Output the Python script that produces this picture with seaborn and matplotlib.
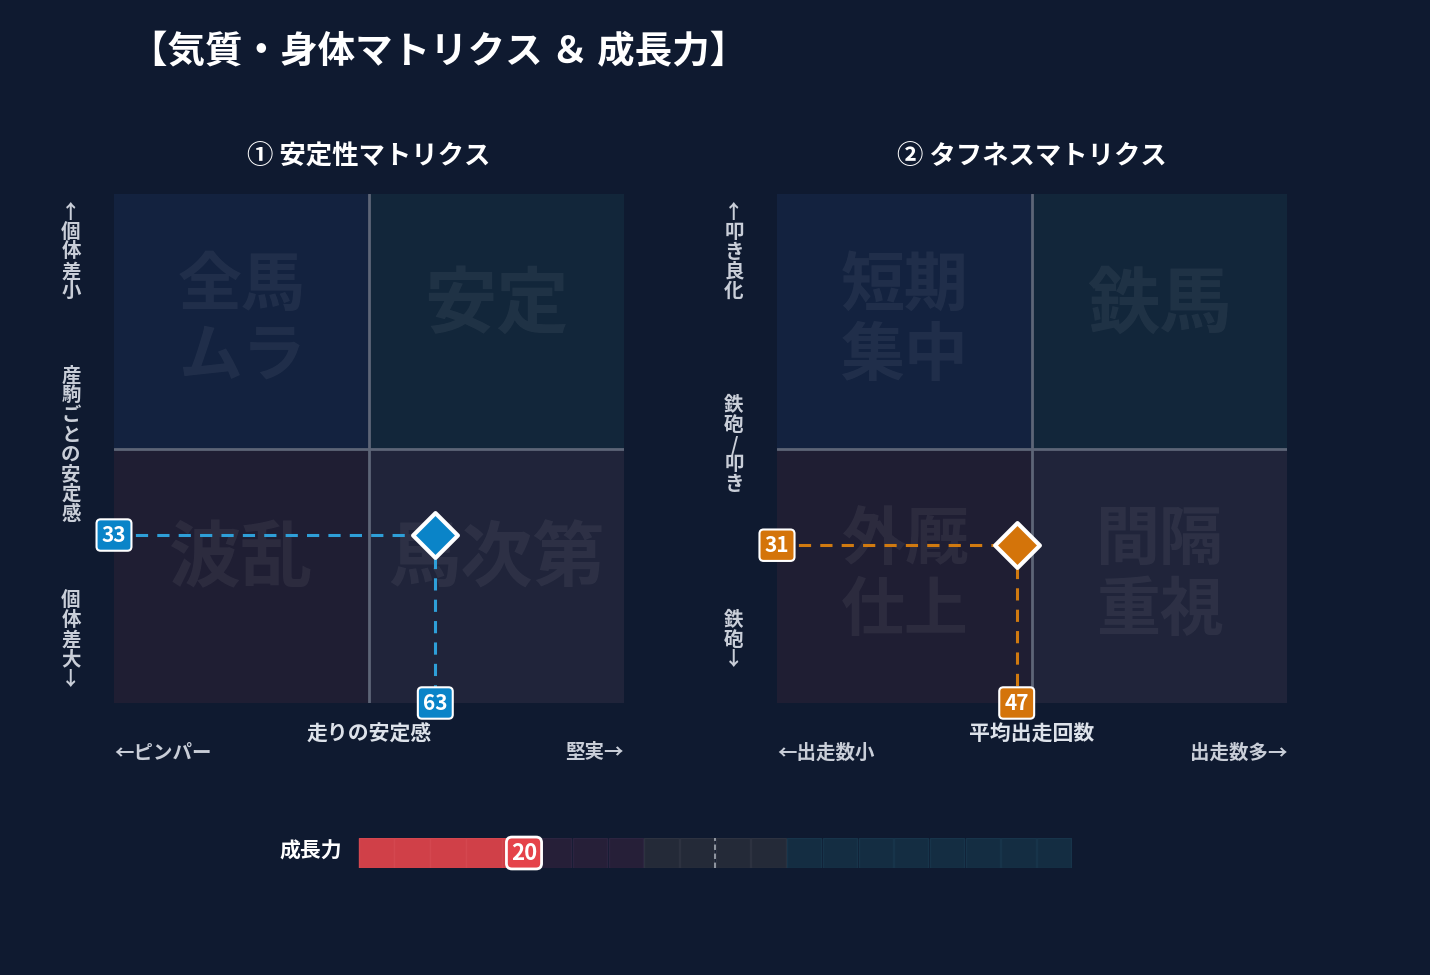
import matplotlib
matplotlib.use("Agg")
import matplotlib.pyplot as plt
import seaborn as sns
from matplotlib.patches import FancyBboxPatch

sns.set_theme(style="dark")
plt.rcParams['font.family'] = ['Noto Sans CJK JP', 'DejaVu Sans']
plt.rcParams['font.weight'] = 'bold'

title = "【気質・身体マトリクス ＆ 成長力】"
m1_title = "① 安定性マトリクス"
m1_x, m1_y = 63, 33
m1_quads = ["全馬\nムラ", "安定", "波乱", "馬次第"]
m1_xlabel, m1_xl, m1_xr = "走りの安定感", "←ピンパー", "堅実→"
m1_ylabels = ["↑\n個\n体\n差\n小", "産\n駒\nご\nと\nの\n安\n定\n感", "個\n体\n差\n大\n↓"]
m2_title = "② タフネスマトリクス"
m2_x, m2_y = 47, 31
m2_quads = ["短期\n集中", "鉄馬", "外厩\n仕上", "間隔\n重視"]
m2_xlabel, m2_xl, m2_xr = "平均出走回数", "←出走数小", "出走数多→"
m2_ylabels = ["↑\n叩\nき\n良\n化", "鉄\n砲\n/\n叩\nき", "鉄\n砲\n↓"]
growth_label = "成長力"
growth_value = 20
n_cells = 20

BG = "#0f1a30"
W, H = 1430, 975
fig = plt.figure(figsize=(W/100, H/100), dpi=100, facecolor=BG)
fig.text(130/W, 1-52/H, title, color="white", fontsize=27, fontweight="bold", va="center")

quad_cols = ["#13223f", "#12263a", "#1f1e33", "#20243a"]

def matrix(x0, title_s, px, py, quads, xl, xll, xlr, ylabs, col, lblcol):
    ax = fig.add_axes([x0/W, 1-703/H, 510/W, 509/H])
    ax.set_facecolor(BG)
    ax.set_xlim(0, 100); ax.set_ylim(0, 100)
    for i, (qx, qy) in enumerate([(0, 50), (50, 50), (0, 0), (50, 0)]):
        ax.bar(qx, 50, width=50, bottom=qy, align="edge", color=quad_cols[i], lw=0, zorder=0)
        lines = quads[i].split("\n")
        ax.text(qx+25, qy+25 + (3 if len(lines) == 1 else 0), quads[i], ha="center", va="center",
                fontsize=46 if len(lines) > 1 else 52, color="white", alpha=0.06,
                fontweight="bold", linespacing=1.1, zorder=1)
    ax.axvline(50, color="#5d6577", lw=2, zorder=2)
    ax.axhline(50, color="#5d6577", lw=2, zorder=2)
    ax.plot([0, px], [py, py], ls=(0, (4, 3)), color=lblcol, lw=2.2, zorder=3, clip_on=False)
    ax.plot([px, px], [py, 0], ls=(0, (4, 3)), color=lblcol, lw=2.2, zorder=3, clip_on=False)
    ax.scatter([px], [py], marker="D", s=520, color=col, edgecolor="white", lw=3, zorder=5)
    bb = dict(boxstyle="round,pad=0.25,rounding_size=0.2", fc=col, ec="white", lw=1.5)
    ax.text(0, py, str(py), ha="center", va="center", fontsize=15, color="white", bbox=bb, zorder=6, clip_on=False)
    ax.text(px, 0, str(px), ha="center", va="center", fontsize=15, color="white", bbox=bb, zorder=6, clip_on=False)
    for s in ax.spines.values(): s.set_visible(False)
    ax.set_xticks([]); ax.set_yticks([])
    cx = x0 + 255
    fig.text(cx/W, 1-157/H, title_s, ha="center", va="center", color="white", fontsize=19)
    fig.text(cx/W, 1-734/H, xl, ha="center", va="center", color="#dde2ea", fontsize=15)
    fig.text(x0/W, 1-753/H, xll, ha="left", va="center", color="#c9ced8", fontsize=14)
    fig.text((x0+510)/W, 1-753/H, xlr, ha="right", va="center", color="#c9ced8", fontsize=14)
    ys = [252, 445, 640]
    for t, y in zip(ylabs, ys):
        fig.text((x0-43)/W, 1-y/H, t, ha="center", va="center", color="#c9ced8",
                 fontsize=14, linespacing=1.05)

matrix(114, m1_title, m1_x, m1_y, m1_quads, m1_xlabel, m1_xl, m1_xr, m1_ylabels, "#0a84c8", "#2e9fd8")
matrix(777, m2_title, m2_x, m2_y, m2_quads, m2_xlabel, m2_xl, m2_xr, m2_ylabels, "#d4740a", "#d07a10")

# growth bar
gax = fig.add_axes([358/W, 1-868/H, 714/W, 30/H])
gax.set_facecolor(BG)
gax.set_xlim(0, n_cells); gax.set_ylim(0, 1)
filled = growth_value / 100 * n_cells
for i in range(n_cells):
    if i <= filled:
        c, e = "#d04048", "#d4474f"
    elif i < 8:
        c, e = "#261f38", "#2c2440"
    elif i < 12:
        c, e = "#242a38", "#2d3240"
    else:
        c, e = "#142d42", "#17344a"
    gax.bar(i + 0.02, 1, width=0.96 if i > filled else 1.0, align="edge", color=c,
            edgecolor=e, lw=1)
gax.axvline(10, color="#9aa0aa", ls=(0, (3, 2)), lw=1.3)
gax.text(filled + 0.65, 0.5, str(growth_value), ha="center", va="center", color="white", fontsize=16,
         bbox=dict(boxstyle="round,pad=0.2,rounding_size=0.25", fc="#e5434a", ec="white", lw=2))
for s in gax.spines.values(): s.set_visible(False)
gax.set_xticks([]); gax.set_yticks([])
fig.text(342/W, 1-851/H, growth_label, ha="right", va="center", color="white", fontsize=15)

fig.savefig("out.png", dpi=100, facecolor=BG)
